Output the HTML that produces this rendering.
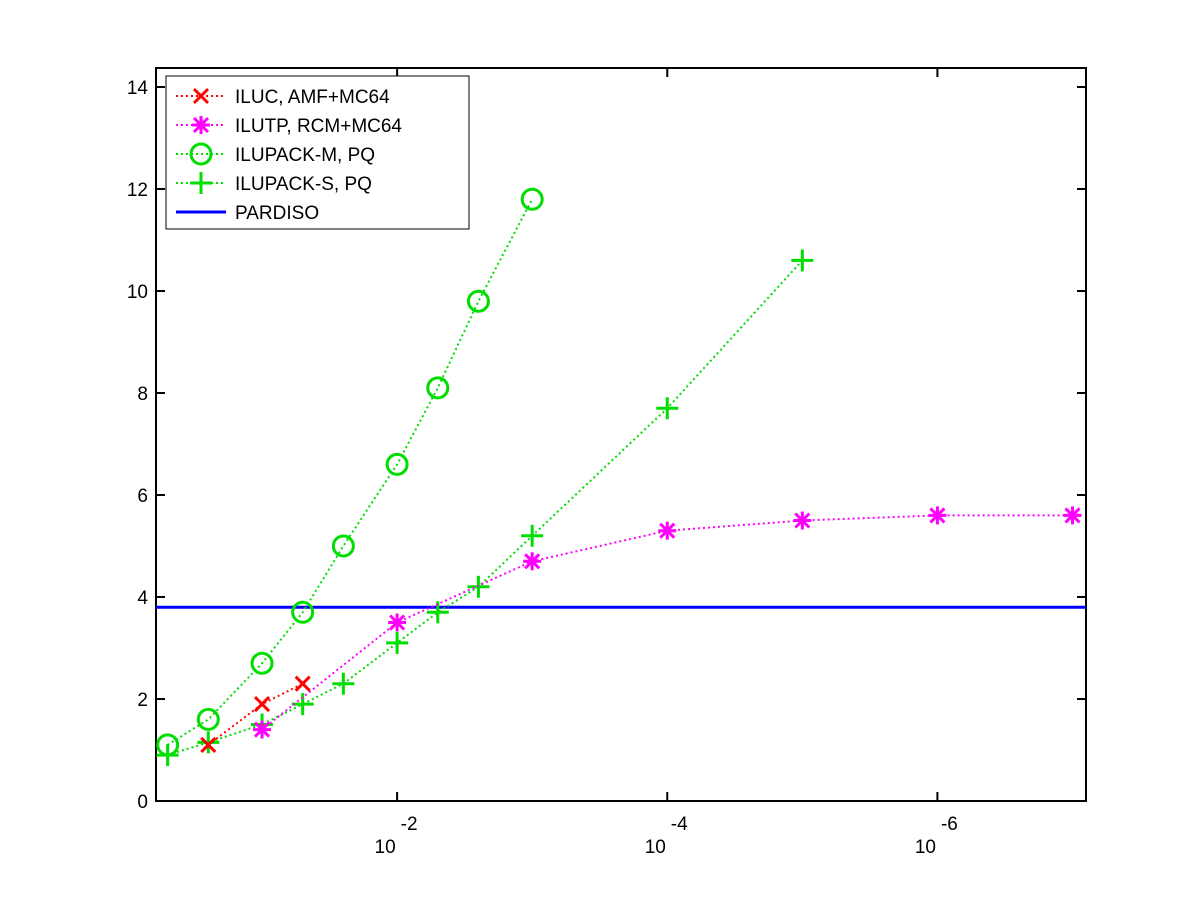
<!DOCTYPE html>
<html><head><meta charset="utf-8">
<style>
html,body{margin:0;padding:0;background:#fff;}
svg{display:block;font-family:"Liberation Sans",Arial,sans-serif;}
</style></head>
<body>
<svg id="chart" width="1200" height="900" viewBox="0 0 1200 900"></svg>
<script>
const thresholds = [0.5, 0.25, 0.1, 0.05, 0.025, 0.01, 0.005, 0.0025, 0.001, 1e-4, 1e-5, 1e-6, 1e-7];
const ilucX = [0.25, 0.1, 0.05];
const ilucY = [1.1, 1.9, 2.3];
const ilutpX = [0.1, 0.01, 0.001, 1e-4, 1e-5, 1e-6, 1e-7];
const ilutpY = [1.4, 3.5, 4.7, 5.3, 5.5, 5.6, 5.6];
const ilupackMX = [0.5, 0.25, 0.1, 0.05, 0.025, 0.01, 0.005, 0.0025, 0.001];
const ilupackMY = [1.1, 1.6, 2.7, 3.7, 5.0, 6.6, 8.1, 9.8, 11.8];
const ilupackSX = [0.5, 0.25, 0.1, 0.05, 0.025, 0.01, 0.005, 0.0025, 0.001, 1e-4, 1e-5];
const ilupackSY = [0.9, 1.15, 1.5, 1.9, 2.3, 3.1, 3.7, 4.2, 5.2, 7.7, 10.6];
const pardisoY = 3.8;
const yTicks = [0, 2, 4, 6, 8, 10, 12, 14];
const xTickExps = [-2, -4, -6];
const legendLabels = ["ILUC, AMF+MC64", "ILUTP, RCM+MC64", "ILUPACK-M, PQ", "ILUPACK-S, PQ", "PARDISO"];

const NS = "http://www.w3.org/2000/svg";
const svg = document.getElementById("chart");
const L = 156, R = 1086, T = 68, B = 801;
const xExpMin = -0.215, xExpMax = -7.1;
function xs(v){ const e = Math.log10(v); return L + (e - xExpMin) / (xExpMax - xExpMin) * (R - L); }
function ys(v){ return B - v * 51; }
function mk(tag, attrs, parent){ const el = document.createElementNS(NS, tag); for (const k in attrs) el.setAttribute(k, attrs[k]); (parent || svg).appendChild(el); return el; }

// axes box
const box = mk("rect", {x:L, y:T, width:R-L, height:B-T, fill:"none", stroke:"#000", "stroke-width":2});



// y ticks
yTicks.forEach(v => {
  const y = ys(v);
  const t1 = mk("line", {x1:L, x2:L+9, y1:y, y2:y, stroke:"#000", "stroke-width":2});
  
  
  mk("line", {x1:R, x2:R-9, y1:y, y2:y, stroke:"#000", "stroke-width":2});
  const tx = mk("text", {x:L-8, y:y+7, "text-anchor":"end", "font-size":19});
  tx.textContent = v;
  
  
});
// x ticks
xTickExps.forEach(e => {
  const x = xs(Math.pow(10, e));
  const t1 = mk("line", {x1:x, x2:x, y1:B, y2:B-9, stroke:"#000", "stroke-width":2});
  
  
  mk("line", {x1:x, x2:x, y1:T, y2:T+9, stroke:"#000", "stroke-width":2});
  const base = mk("text", {x:x-12, y:853, "text-anchor":"middle", "font-size":19});
  base.textContent = "10";
  
  
  const sup = mk("text", {x:x+12, y:830, "text-anchor":"middle", "font-size":19});
  sup.textContent = String(e);
  
  
});

function series(xsArr, ysArr, color, marker, name){
  const g = mk("g", {});
  
  
  const pts = xsArr.map((v,i) => xs(v) + "," + ys(ysArr[i])).join(" ");
  const pl = mk("polyline", {points:pts, fill:"none", stroke:color, "stroke-width":2, "stroke-dasharray":"2,3"}, g);
  
  
  xsArr.forEach((v,i) => {
    const m = drawMarker(xs(v), ys(ysArr[i]), color, marker, g);
    
    
  });
}
function drawMarker(x, y, color, marker, parent){
  const g = mk("g", {stroke:color, "stroke-width":3, fill:"none"}, parent);
  const s = 9;
  if (marker === "x") {
    mk("line", {x1:x-7, y1:y-7, x2:x+7, y2:y+7}, g);
    mk("line", {x1:x-7, y1:y+7, x2:x+7, y2:y-7}, g);
  } else if (marker === "*") {
    mk("line", {x1:x-s, y1:y, x2:x+s, y2:y}, g);
    mk("line", {x1:x, y1:y-s, x2:x, y2:y+s}, g);
    mk("line", {x1:x-7, y1:y-7, x2:x+7, y2:y+7}, g);
    mk("line", {x1:x-7, y1:y+7, x2:x+7, y2:y-7}, g);
  } else if (marker === "o") {
    mk("circle", {cx:x, cy:y, r:10}, g);
  } else if (marker === "+") {
    mk("line", {x1:x-11, y1:y, x2:x+11, y2:y}, g);
    mk("line", {x1:x, y1:y-11, x2:x, y2:y+11}, g);
  }
  return g;
}

const pl = mk("line", {x1:L, x2:R, y1:ys(pardisoY), y2:ys(pardisoY), stroke:"#0000ff", "stroke-width":3});


series(ilupackMX, ilupackMY, "#00dd00", "o", "ilupack-m-series");
series(ilupackSX, ilupackSY, "#00dd00", "+", "ilupack-s-series");
series(ilutpX, ilutpY, "#ff00ff", "*", "ilutp-series");
series(ilucX, ilucY, "#ff0000", "x", "iluc-series");

// legend
const lg = mk("g", {});


const lr = mk("rect", {x:166, y:76, width:303, height:153, fill:"#fff", stroke:"#000", "stroke-width":1}, lg);


const legColors = ["#ff0000", "#ff00ff", "#00dd00", "#00dd00", "#0000ff"];
const legMarkers = ["x", "*", "o", "+", null];
legendLabels.forEach((lab, i) => {
  const y = 96 + i * 29;
  const e = mk("g", {}, lg);
  
  
  if (legMarkers[i]) {
    mk("line", {x1:176, x2:226, y1:y, y2:y, stroke:legColors[i], "stroke-width":2, "stroke-dasharray":"2,3"}, e);
    drawMarker(201, y, legColors[i], legMarkers[i], e);
  } else {
    mk("line", {x1:176, x2:226, y1:y, y2:y, stroke:legColors[i], "stroke-width":3}, e);
  }
  const t = mk("text", {x:235, y:y+7, "font-size":19}, e);
  t.textContent = lab;
});
</script>
</body></html>
